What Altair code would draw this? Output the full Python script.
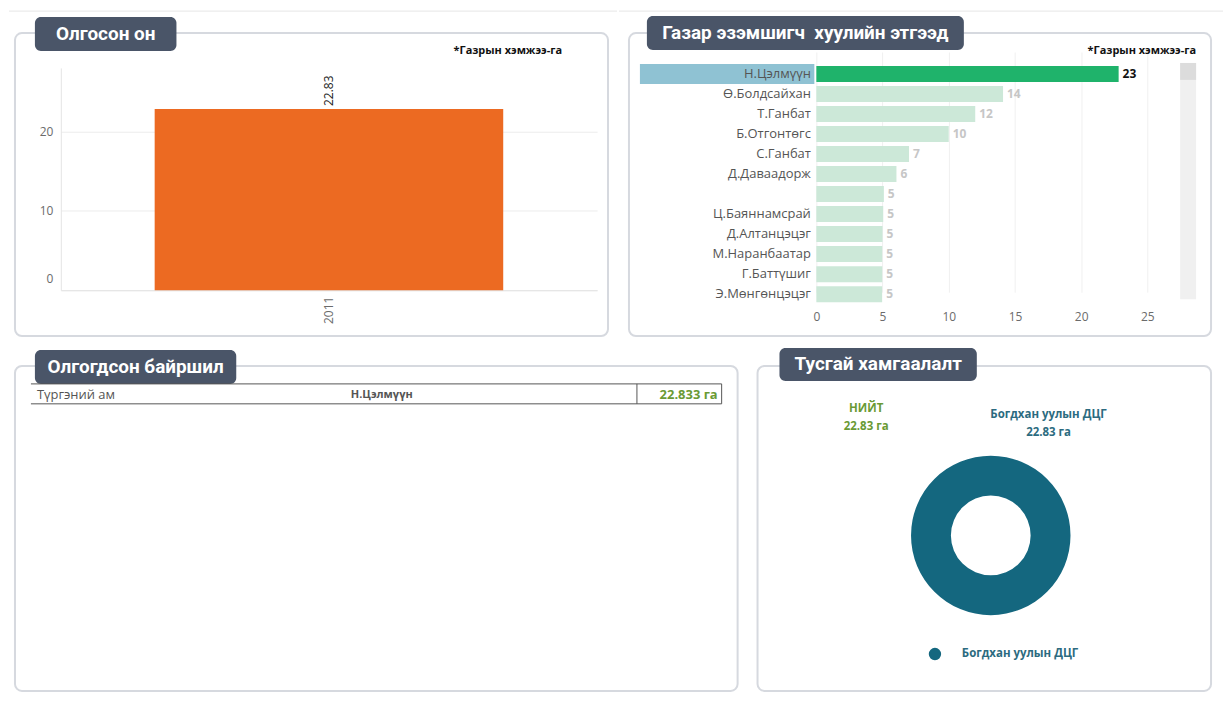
import altair as alt
import pandas as pd

# ---------------- data ----------------
years = ["2011"]
year_area = [22.83]

owners = ["Н.Цэлмүүн", "Ө.Болдсайхан", "Т.Ганбат", "Б.Отгонтөгс", "С.Ганбат",
          "Д.Даваадорж", " ", "Ц.Баяннамсрай", "Д.Алтанцэцэг", "М.Наранбаатар",
          "Г.Баттүшиг", "Э.Мөнгөнцэцэг"]
owner_area = [22.83, 14.1, 12.0, 10.0, 7.0, 6.05, 5.1, 5.05, 5.0, 4.98, 4.98, 4.97]
owner_selected = [True] + [False] * 11

locations = ["Түргэний ам"]
location_owner = ["Н.Цэлмүүн"]
location_area = [22.833]

zones = ["Богдхан уулын ДЦГ"]
zone_area = [22.83]

# ---------------- style ----------------
FONT = "Open Sans"
TFONT = "Roboto"
SLATE = "#4a5568"
BORDER = "#d6d9df"
AXIS_GRAY = "#6b6b6b"
D1 = -2   # vertical calibration, top row
D2 = -3   # vertical calibration, bottom row

dummy = pd.DataFrame({"k": [0]})


def frame(box, tbox, title, tcenter, dy):
    x0, y0, x1, y1 = box
    tx0, ty0, tx1, ty1 = tbox
    b = alt.Chart(dummy).mark_rect(fill="#ffffff", fillOpacity=0, stroke=BORDER,
                                   strokeWidth=2, cornerRadius=7).encode(
        x=alt.value(x0), x2=alt.value(x1), y=alt.value(y0 + dy), y2=alt.value(y1 + dy))
    t = alt.Chart(dummy).mark_rect(fill=SLATE, cornerRadius=6).encode(
        x=alt.value(tx0), x2=alt.value(tx1), y=alt.value(ty0 + dy), y2=alt.value(ty1 + dy))
    tt = alt.Chart(dummy).mark_text(font=TFONT, fontSize=19, fontWeight="bold",
                                    color="#ffffff", align="center",
                                    baseline="middle").encode(
        x=alt.value(tcenter[0]), y=alt.value(tcenter[1] + dy), text=alt.value(title))
    return [b, t, tt]


def top_line(width):
    return alt.Chart(dummy).mark_rule(color="#e6e6e6", strokeWidth=1).encode(
        x=alt.value(0), x2=alt.value(width), y=alt.value(1))


def note(x, y, align):
    return alt.Chart(dummy).mark_text(font=FONT, fontSize=11, fontWeight="bold",
                                      color="#111111", align=align,
                                      baseline="middle").encode(
        x=alt.value(x), y=alt.value(y), text=alt.value("*Газрын хэмжээ-га"))


# ---------------- panel A: year bar ----------------
WA, HA = 610, 337
df_year = pd.DataFrame({"year": years, "area": year_area})
xA = alt.X("year:N", title=None,
           scale=alt.Scale(range=[52, 590], paddingInner=0.35, paddingOuter=0.175),
           axis=alt.Axis(offset=-54 + D1, labelAngle=270, labelFont=FONT,
                         labelFontSize=12, labelColor=AXIS_GRAY, labelPadding=6,
                         ticks=False, domainColor="#e4e4e4", grid=False, zindex=0))
yA = alt.Y("area:Q", title=None,
           scale=alt.Scale(domain=[0, 28], range=[283 + D1, 60 + D1], nice=False),
           axis=alt.Axis(offset=-52, values=[0, 10, 20], labelFont=FONT,
                         labelFontSize=12, labelColor=AXIS_GRAY, labelPadding=8,
                         ticks=False, domainColor="#e4e4e4", gridColor="#ececec",
                         labelFlush=True, labelFlushOffset=-5, zindex=0))
barA = alt.Chart(df_year).mark_bar(color="#ec6a22").encode(x=xA, y=yA)
lblA = alt.Chart(df_year).mark_text(angle=270, align="left", baseline="middle", dx=3,
                                    font=FONT, fontSize=12, color="#222222").encode(
    x=xA, y=yA, text=alt.Text("area:Q", format=".2f"))
panelA = alt.layer(
    top_line(WA),
    *frame((6, 25, 601, 329), (26, 9, 168, 43), "Олгосон он", (97, 26), D1),
    note(446, 43 + D1, "left"), barA, lblA
).properties(width=WA, height=HA)

# ---------------- panel B: owners bars ----------------
WB, HB = 606, 337
df_owner = pd.DataFrame({"owner": owners, "area": owner_area, "sel": owner_selected})
yB = alt.Y("owner:N", sort=owners, title=None,
           scale=alt.Scale(range=[56 + D1, 297 + D1], paddingInner=0.2,
                           paddingOuter=0.1),
           axis=alt.Axis(offset=-198, labelFont=FONT, labelFontSize=13,
                         labelColor="#555555", labelPadding=6, ticks=False,
                         domain=False, grid=False, zindex=2))
xB = alt.X("area:Q", title=None,
           scale=alt.Scale(domain=[0, 27.4], range=[198, 562], nice=False),
           axis=alt.Axis(offset=-41 + D1, values=[0, 5, 10, 15, 20, 25],
                         labelFont=FONT, labelFontSize=12, labelColor=AXIS_GRAY,
                         labelPadding=8, ticks=False, domain=False,
                         gridColor="#f0f0f0", labelFlush=False, zindex=0))
hl = alt.Chart(df_owner).transform_filter("datum.sel").mark_bar(
    size=20, color="#8fc2d3").encode(y=yB, x=alt.value(21), x2=alt.value(196))
barB = alt.Chart(df_owner).mark_bar().encode(
    y=yB, x=xB,
    color=alt.condition("datum.sel", alt.value("#1fb36b"), alt.value("#cce8d8")))
lblB = alt.Chart(df_owner).mark_text(align="left", baseline="middle", dx=4, font=FONT,
                                     fontSize=12, fontWeight="bold").encode(
    y=yB, x=xB, text=alt.Text("area:Q", format=".0f"),
    color=alt.condition("datum.sel", alt.value("#111111"), alt.value("#c6c6c6")))
track = alt.Chart(dummy).mark_rect(color="#f0f0f0").encode(
    x=alt.value(563), x2=alt.value(579), y=alt.value(55 + D1), y2=alt.value(292 + D1))
thumb = alt.Chart(dummy).mark_rect(color="#dcdcdc").encode(
    x=alt.value(563), x2=alt.value(579), y=alt.value(55 + D1), y2=alt.value(72 + D1))
panelB = alt.layer(
    top_line(WB),
    *frame((10, 25, 594, 329), (28, 8, 346, 42),
           "Газар эзэмшигч\u00a0 хуулийн этгээд", (187, 25), D1),
    note(579, 43 + D1, "right"), track, thumb, hl, barB, lblB
).properties(width=WB, height=HB)

# ---------------- panel C: table ----------------
WC, HC = 740, 349
df_loc = pd.DataFrame({"place": locations, "owner": location_owner,
                       "area": location_area})
yC = alt.Y("place:N", axis=None,
           scale=alt.Scale(range=[39 + D2, 59 + D2], paddingInner=0, paddingOuter=0))
rules = []
for yy in (39, 59):
    rules.append(alt.Chart(dummy).mark_rule(color="#555555", strokeWidth=1).encode(
        x=alt.value(22), x2=alt.value(715), y=alt.value(yy + D2)))
for xx in (630, 715):
    rules.append(alt.Chart(dummy).mark_rule(color="#555555", strokeWidth=1).encode(
        x=alt.value(xx), y=alt.value(39 + D2), y2=alt.value(59 + D2)))
c1 = alt.Chart(df_loc).mark_text(align="left", baseline="middle", font=FONT,
                                 fontSize=13, color="#555555", dy=1).encode(
    y=yC, x=alt.value(28), text="place:N")
c2 = alt.Chart(df_loc).mark_text(align="center", baseline="middle", font=FONT,
                                 fontSize=11, fontWeight="bold", dy=1,
                                 color="#555555").encode(
    y=yC, x=alt.value(374), text="owner:N")
c3 = alt.Chart(df_loc).transform_calculate(
    lbl="format(datum.area, '.3f') + ' га'").mark_text(
    align="right", baseline="middle", font=FONT, fontSize=13, fontWeight="bold",
    dy=1, color="#6a9a34").encode(y=yC, x=alt.value(711), text="lbl:N")
panelC = alt.layer(
    *frame((6, 21, 731, 347), (26, 5, 228, 39), "Олгогдсон байршил", (127, 22), D2),
    *rules, c1, c2, c3
).properties(width=WC, height=HC)

# ---------------- panel D: donut ----------------
WD, HD = 476, 349
df_zone = pd.DataFrame({"zone": zones, "area": zone_area})
TEAL = "#14677f"
arc = alt.Chart(df_zone).mark_arc(outerRadius=80, innerRadius=40).encode(
    theta=alt.Theta("area:Q"),
    color=alt.Color("zone:N", scale=alt.Scale(domain=zones, range=[TEAL]),
                    legend=alt.Legend(orient="none", legendX=922, legendY=639,
                                      title=None, symbolType="circle", symbolSize=154,
                                      labelFont=FONT, labelFontSize=11.5,
                                      labelFontWeight="bold", labelColor="#2c6b80",
                                      labelOffset=20, padding=0)),
    x=alt.value(243), y=alt.value(191 + D2))
tot_t = alt.Chart(dummy).mark_text(font=FONT, fontSize=11.5, fontWeight="bold",
                                   color="#6a9a34").encode(
    x=alt.value(118), y=alt.value(64 + D2), text=alt.value("НИЙТ"))
tot_v = alt.Chart(df_zone).transform_aggregate(total="sum(area)").transform_calculate(
    lbl="format(datum.total, '.2f') + ' га'").mark_text(
    font=FONT, fontSize=11.5, fontWeight="bold", color="#6a9a34").encode(
    x=alt.value(118), y=alt.value(82 + D2), text="lbl:N")
z_t = alt.Chart(df_zone).mark_text(font=FONT, fontSize=11.5, fontWeight="bold",
                                   color="#2c6b80").encode(
    x=alt.value(301), y=alt.value(70 + D2), text="zone:N")
z_v = alt.Chart(df_zone).transform_calculate(
    lbl="format(datum.area, '.2f') + ' га'").mark_text(
    font=FONT, fontSize=11.5, fontWeight="bold", color="#2c6b80").encode(
    x=alt.value(301), y=alt.value(88 + D2), text="lbl:N")
panelD = alt.layer(
    *frame((9, 21, 464, 347), (31, 3, 229, 36), "Тусгай хамгаалалт", (130, 19), D2),
    arc, tot_t, tot_v, z_t, z_v
).properties(width=WD, height=HD)

row1 = alt.hconcat(panelA, panelB, spacing=0)
row2 = alt.hconcat(panelC, panelD, spacing=0)
chart = alt.vconcat(row1, row2, spacing=0).properties(
    padding=0, background="#ffffff"
).configure_view(stroke="transparent")

chart.save("out.html", embed_options={"renderer": "svg", "actions": False})
